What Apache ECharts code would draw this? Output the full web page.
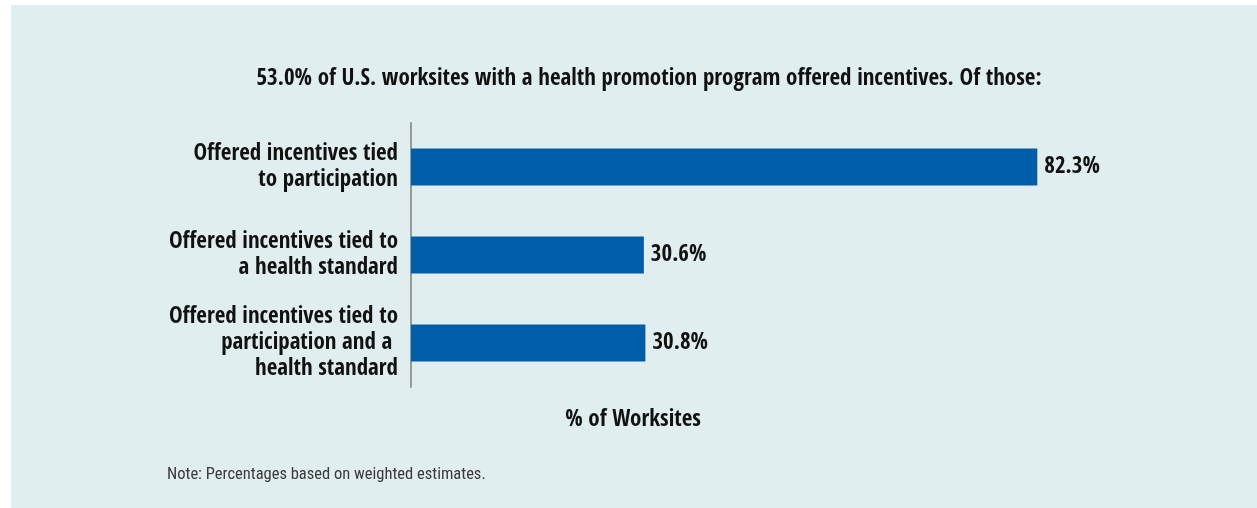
<!DOCTYPE html>
<html>
<head>
<meta charset="utf-8">
<script src="https://cdn.jsdelivr.net/npm/echarts@6/dist/echarts.min.js"></script>
<style>
  html, body { margin: 0; padding: 0; background: #ffffff; }
  #chart { position: absolute; left: 11px; top: 5px; width: 1246px; height: 503px; background: #e0eef0; }
</style>
</head>
<body>
<div id="chart"></div>
<script>
// Incentive types (top to bottom) and share of worksites offering each
const categories = [
  'Offered incentives tied\nto participation',
  'Offered incentives tied to\na health standard',
  'Offered incentives tied to\nparticipation and a \nhealth standard'
];
const values = [82.3, 30.6, 30.8];

const titleText = '53.0% of U.S. worksites with a health promotion program offered incentives. Of those:';
const axisTitle = '% of Worksites';
const noteText = 'Note: Percentages based on weighted estimates.';

const FONT = '"Open Sans Condensed", "Roboto Condensed", "DejaVu Sans Condensed", sans-serif';
const NOTE_FONT = '"Roboto Condensed", "DejaVu Sans Condensed", sans-serif';

const chart = echarts.init(document.getElementById('chart'));
chart.setOption({
  animation: false,
  title: [
    { text: titleText, left: 633, top: 57, textAlign: 'center',
      textStyle: { fontFamily: FONT, fontSize: 23, fontWeight: 'bold', color: '#111' } },
    { text: axisTitle, left: 617, top: 398, textAlign: 'center',
      textStyle: { fontFamily: FONT, fontSize: 23, fontWeight: 'bold', color: '#111' } },
    { text: noteText, left: 151, top: 456,
      textStyle: { fontFamily: NOTE_FONT, fontSize: 16.5, fontWeight: 'normal', color: '#3a3a3a' } }
  ],
  grid: { left: 400, top: 118, width: 761, height: 264, containLabel: false },
  xAxis: {
    type: 'value', min: 0, max: 100, show: false
  },
  yAxis: {
    type: 'category', data: categories, inverse: true,
    axisLine: { show: true, lineStyle: { color: '#999999', width: 2 } },
    axisTick: { show: false },
    axisLabel: {
      margin: 13, align: 'right', fontFamily: FONT, fontSize: 23,
      fontWeight: 'bold', color: '#111', lineHeight: 26, padding: [4, 0, 0, 0]
    }
  },
  series: [{
    type: 'bar', data: values, barWidth: 37,
    itemStyle: { color: '#005ea8' },
    label: {
      show: true, position: 'right', distance: 7,
      formatter: p => p.value.toFixed(1) + '%',
      fontFamily: FONT, fontSize: 23, fontWeight: 'bold', color: '#111'
    }
  }]
});
</script>
</body>
</html>
